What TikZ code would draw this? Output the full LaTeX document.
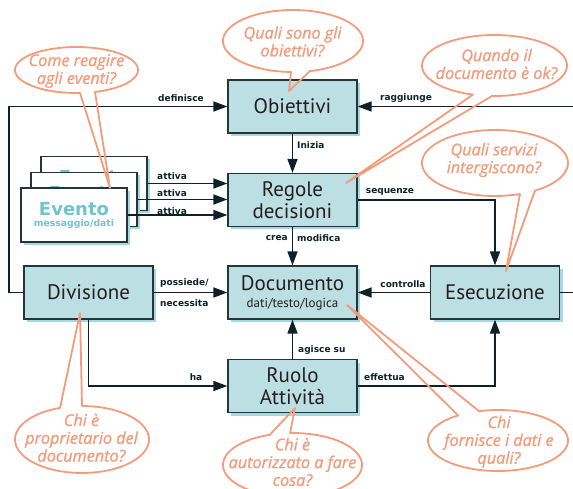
\documentclass[tikz,border=0pt]{standalone}
\usepackage{fontspec}
\setmainfont{PT Sans}
\newfontfamily\labfont{DejaVu Sans}
\newfontfamily\cfont{Open Sans}[ItalicFeatures={FakeBold=1.2}]
\usetikzlibrary{arrows.meta,shadows}
\definecolor{boxfill}{HTML}{BCDFE3}
\definecolor{boxdraw}{HTML}{263538}
\definecolor{shadowblue}{HTML}{A7D8E2}
\definecolor{linecol}{HTML}{0E2126}
\definecolor{salmon}{HTML}{F39C7B}
\definecolor{tealtext}{HTML}{6FC5CC}
\definecolor{textdark}{HTML}{231F20}
\tikzset{
  box/.style={draw=boxdraw, line width=1.2pt, fill=boxfill, minimum width=129pt, minimum height=53pt,
    inner sep=0pt, align=center, font=\fontsize{21}{22}\selectfont, text=textdark,
    drop shadow={shadow xshift=3pt, shadow yshift=-3pt, fill=shadowblue, opacity=1}},
  evbox/.style={draw=boxdraw, line width=1.2pt, fill=white, minimum width=106pt, minimum height=54pt,
    inner sep=0pt, align=center, text=tealtext, font=\labfont\bfseries,
    drop shadow={shadow xshift=3pt, shadow yshift=-3pt, fill=shadowblue, opacity=1}},
  conn/.style={draw=linecol, line width=1.6pt, -{Triangle[length=14pt,width=10pt]}},
  lab/.style={font=\labfont\bfseries\fontsize{9}{10}\selectfont, text=linecol, inner sep=0pt},
  callout/.style={draw=salmon, line width=1.8pt, line join=round},
  ctext/.style={font=\cfont\itshape\fontsize{16.2}{17.8}\selectfont, text=salmon, align=center, inner sep=0pt},
}
\newcommand\mycallout[7]{% cx cy rx ry start end tip
  \draw[callout] plot[domain=#5:#6, samples=90, smooth] ({#1+#3*cos(\x)},{#2+#4*sin(\x)}) -- #7 -- cycle;}
\newcommand\evtext{{\fontsize{18}{19}\selectfont Evento}\\[-1pt]{\fontsize{9.3}{11}\selectfont messaggio/dati}}
\begin{document}
\begin{tikzpicture}[x=1pt,y=-1pt]
\useasboundingbox (0,0) rectangle (573,489);
% main boxes
\node[box] (obi) at (292.5,106.5) {Obiettivi};
\node[box] (reg) at (292.5,200) {Regole\\decisioni};
\node[box] (doc) at (292.5,292.5) {Documento\\[-5pt]{\fontsize{13}{14}\selectfont dati/testo/logica}};
\node[box] (ruo) at (292.5,386) {Ruolo\\Attività};
\node[box] (div) at (88.5,292.5) {Divisione};
\node[box] (ese) at (495,292.5) {Esecuzione};
% event stack
\node[evbox] (ev3) at (94,183.5) {\evtext};
\node[evbox] (ev2) at (84,199.5) {\evtext};
\node[evbox] (ev1) at (74,215) {\evtext};
% connectors
\coordinate (lt) at (9,106.5);
\coordinate (lb) at (9,292.5);
\coordinate (rt) at (580,106.5);
\coordinate (rb) at (580,292.5);
\draw[conn] (div.west) -- (lb) -- (lt) -- (obi.west);
\draw[conn] (ese.east) -- (rb) -- (rt) -- (obi.east);
\draw[conn] (obi.south) -- (reg.north);
\draw[conn] (reg.south) -- (doc.north);
\draw[conn] (ruo.north) -- (doc.south);
\draw[conn] (reg.east) -| (ese.north);
\draw[conn] (ruo.east) -| (ese.south);
\draw[conn] (ese.west) -- (doc.east);
\draw[conn] (div.east) -- (doc.west);
\draw[conn] (div.south) |- (ruo.west);
\draw[conn] (ev3.east) -- (ev3.east -| reg.west);
\draw[conn] (ev2.east) -- (ev2.east -| reg.west);
\draw[conn] (ev1.east) -- (ev1.east -| reg.west);
% labels
\node[lab] (l1) at (181,98) {definisce};
\node[lab] (l2) at (406,98) {raggiunge};
\node[lab, anchor=west] (l3) at (297,145) {Inizia};
\node[lab, anchor=east] (l4) at (288,238) {crea};
\node[lab, anchor=west] (l5) at (297,238) {modifica};
\node[lab] (l6) at (390,192) {sequenze};
\node[lab] (l7) at (403,284) {controlla};
\node[lab, anchor=west] (l8) at (298,350) {agisce su};
\node[lab] (l9) at (384.5,377) {effettua};
\node[lab, anchor=west] (l10) at (160,283) {possiede/};
\node[lab, anchor=west] (l11) at (160,303) {necessita};
\node[lab] (l12) at (196,377) {ha};
\node[lab, anchor=west] (l13) at (157,176) {attiva};
\node[lab, anchor=west] (l14) at (157,193) {attiva};
\node[lab, anchor=west] (l15) at (157,211) {attiva};
% callouts
\mycallout{76.5}{70}{61.5}{23}{86.7}{432.5}{(110,188)}
\node[ctext] (c1) at (76.5,71) {Come reagire\\agli eventi?};
\mycallout{293}{41}{70}{31}{91.6}{436}{(289,91)}
\node[ctext] (c2) at (292.5,41.5) {Quali sono gli\\obiettivi?};
\mycallout{494.5}{65.5}{72.5}{30.5}{107.3}{452}{(346,183)}
\node[ctext] (c3) at (496.5,64) {Quando il\\documento è ok?};
\mycallout{495}{163}{73}{33}{70}{416.8}{(506,271)}
\node[ctext] (c4) at (494,160) {Quali servizi\\intergiscono?};
\mycallout{82}{439.5}{67}{33.5}{270}{610.9}{(80,313)}
\node[ctext] (c5) at (81.5,437.7) {Chi è\\proprietario del\\documento?};
\mycallout{292.5}{465}{69.5}{32}{268}{611}{(295,408)}
\node[ctext] (c6) at (292.5,462) {Chi è\\autorizzato a fare\\cosa?};
\mycallout{498}{440.5}{70}{30.5}{254.3}{595.2}{(347,305)}
\node[ctext] (c7) at (499,441.7) {Chi\\fornisce i dati e\\quali?};
\end{tikzpicture}
\end{document}
